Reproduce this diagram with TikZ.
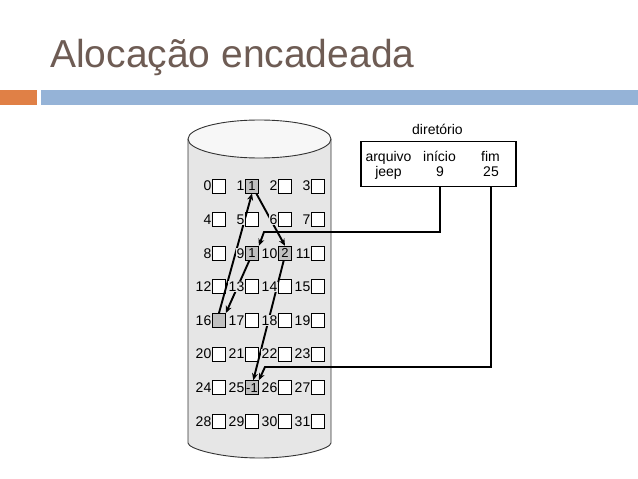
\documentclass[tikz,border=0pt]{standalone}
\usepackage{fontspec}
\setmainfont{Liberation Sans}
\usetikzlibrary{arrows.meta, positioning, calc}

\definecolor{titlebrown}{RGB}{110,92,84}
\definecolor{barorange}{RGB}{224,128,70}
\definecolor{barblue}{RGB}{149,179,215}
\definecolor{diskgray}{RGB}{230,230,230}
\definecolor{usedgray}{RGB}{192,192,192}

\begin{document}
\begin{tikzpicture}[
        x=1pt, y=-1pt,
        blk/.style={draw, line width=0.8pt, fill=white, minimum width=13pt, minimum height=14pt, inner sep=0pt, font=\fontsize{13}{13}\selectfont},
        used/.style={blk, fill=usedgray},
        num/.style={fill=diskgray, inner sep=0.4pt, font=\fontsize{14}{14}\selectfont},
        link/.style={line width=1.9pt, -{Stealth[length=7pt, width=6pt]}},
        dirtxt/.style={anchor=base, inner sep=0pt, font=\fontsize{14}{14}\selectfont}
    ]
        \useasboundingbox (0,0) rectangle (638,479);

        % Title and bars
        \node[anchor=base west, inner sep=0pt, text=titlebrown, font=\fontsize{39}{39}\selectfont] (title) at (50,67) {Alocação encadeada};
        \fill[barorange] (0,90) rectangle (37,105);
        \fill[barblue] (41,90) rectangle (638,105);

        % Disk
        \filldraw[fill=diskgray, draw=black!80, line width=0.9pt, rounded corners=6pt] (188,139) -- (188,437)
            arc[start angle=180, end angle=0, x radius=71.5, y radius=21] -- (331,139);
        \filldraw[fill=gray!6, draw=black!80, line width=0.9pt] (259.5,139) ellipse[x radius=71.5, y radius=19];

        % Blocks
        \foreach \i in {0,...,31} {
            \pgfmathtruncatemacro\col{mod(\i,4)}
            \pgfmathtruncatemacro\row{div(\i,4)}
            \node[blk] (b\i) at (219+33*\col, 186+33.6*\row) {};
        }
        \node[used] (b1) at (b1) {1};
        \node[used] (b9) at (b9) {1};
        \node[used] (b10) at (b10) {2};
        \node[used] (b16) at (b16) {};
        \node[used] (b25) at (b25) {-1};

        % Directory
        \node[draw, line width=1.4pt, minimum width=155pt, minimum height=45pt, inner sep=0pt] (dir) at (438.5,164) {};
        \node[dirtxt] (hdr) at (437.5,134) {diretório};
        \node[dirtxt] (arq) at (388.5,161) {arquivo};
        \node[dirtxt] (ini) at (439.5,161) {início};
        \node[dirtxt] (fim) at (490.5,161) {fim};
        \node[dirtxt] (jeep) at (388.5,176) {jeep};
        \node[dirtxt] (n9) at (440,176) {9};
        \node[dirtxt] (n25) at (491,176) {25};

        % Chain of blocks
        \draw[link] (b9.250) -- (b16.north east);
        \draw[link] (b16.north) -- (b1.south);
        \draw[link] (b1.-60) -- (b10.north);
        \draw[link] (b10.260) -- (b25.80);

        % Start and end pointers
        \coordinate (k9) at (264,232);
        \coordinate (k25) at (265,367);
        \draw[link] (n9 |- dir.south) |- (k9) -- (b9.north east);
        \draw[link] (n25 |- dir.south) |- (k25) -- (b25.north east);

        % Block numbers
        \foreach \i in {0,...,31}
            \node[num, left=0.2pt of b\i] (l\i) {\i};
    \end{tikzpicture}
\end{document}
